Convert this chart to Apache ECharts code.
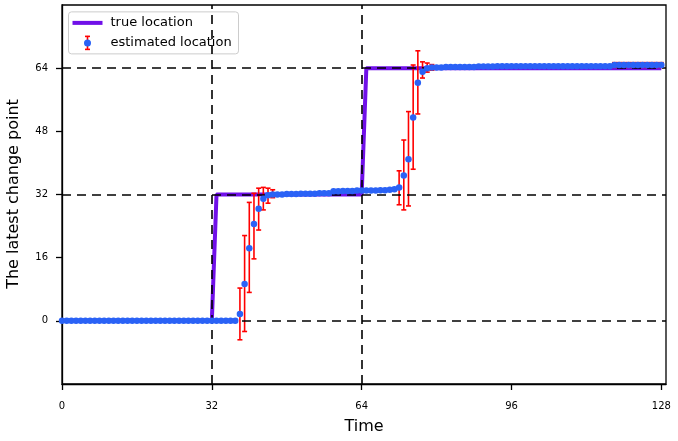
<!DOCTYPE html>
<html>
    <head>
        <title>change_point</title>
        <script src="https://cdnjs.cloudflare.com/ajax/libs/echarts/6.0.0/echarts.min.js"></script>
        <style>
            html, body { margin: 0; padding: 0; background: #fff; }
        </style>
    </head>
    <body>
        <div id="main" style="width: 678px; height: 441px;"></div>
        <script>
            // time steps 0..128
            var times = [];
            for (var i = 0; i <= 128; i++) times.push(i);

            // true change point at each time
            var trueLoc = [];
            for (var i = 0; i <= 128; i++) trueLoc.push(i <= 32 ? 0 : (i <= 64 ? 32 : 64));

            // estimated change point
            var estLoc = [
                0, 0, 0, 0, 0, 0, 0, 0, 0, 0, 0, 0, 0, 0, 0, 0,
                0, 0, 0, 0, 0, 0, 0, 0, 0, 0, 0, 0, 0, 0, 0, 0,
                0, 0, 0, 0, 0, 0, 1.7, 9.3, 18.4, 24.5, 28.4, 30.9, 31.8, 32.0,
                32.0, 32.0, 32.1, 32.1, 32.1, 32.2, 32.2, 32.2, 32.2, 32.3, 32.3, 32.3,
                32.8, 32.8, 32.9, 32.9, 32.9, 33.0, 33.0, 33.0, 33.0, 33.0, 33.1, 33.1, 33.2, 33.3,
                33.8, 36.8, 40.9, 51.5, 60.3, 63.1, 64.0, 64.2,
                64.2, 64.2, 64.3, 64.3, 64.3, 64.3, 64.3, 64.3, 64.3, 64.4,
                64.4, 64.4, 64.4, 64.5, 64.5, 64.5, 64.5, 64.5, 64.5, 64.5,
                64.5, 64.5, 64.5, 64.5, 64.5, 64.5, 64.5, 64.5, 64.5, 64.5,
                64.5, 64.5, 64.5, 64.5, 64.5, 64.5, 64.5, 64.5,
                64.8, 64.8, 64.8, 64.8, 64.8, 64.8, 64.8, 64.8, 64.8, 64.8, 64.8
            ];

            // error bars: [time, low, high]
            var errBars = [
                [38, -4.8, 8.3], [39, -2.7, 21.6], [40, 7.2, 30.0], [41, 15.7, 32.3],
                [42, 23.0, 33.6], [43, 28.1, 33.8], [44, 29.8, 33.6], [45, 31.2, 33.2],
                [72, 29.4, 38.0], [73, 28.1, 45.8], [74, 29.1, 53.0], [75, 38.4, 64.8],
                [76, 52.4, 68.4], [77, 61.5, 65.6], [78, 63.0, 65.3], [79, 63.5, 64.9],
                [118, 64.2, 65.4], [119, 64.2, 65.4], [120, 64.2, 65.4], [121, 64.2, 65.4],
                [122, 64.2, 65.4], [123, 64.2, 65.4], [124, 64.2, 65.4], [125, 64.2, 65.4],
                [126, 64.2, 65.4], [127, 64.2, 65.4], [128, 64.2, 65.4]
            ];

            var guideX = [32, 64];
            var guideY = [0, 32, 64];
            var xTicks = [0, 32, 64, 96, 128];
            var yTicks = [0, 16, 32, 48, 64];
            var legendNames = ['true location', 'estimated location'];
            var yTitle = 'The latest change point';

            var FONT = 'DejaVu Sans';
            var PURPLE = '#7010e8', BLUE = '#2a62f6';
            var myChart = echarts.init(document.getElementById('main'));

            var trueData = times.map(function (t, i) { return [t, trueLoc[i]]; });
            var estData = times.map(function (t, i) { return [t, estLoc[i]]; });
            var guides = guideX.map(function (v) { return { xAxis: v }; })
                .concat(guideY.map(function (v) { return { yAxis: v }; }));

            // legend box drawn by hand (matplotlib style, with errorbar icon)
            var redLine = { stroke: 'red', lineWidth: 1.6 };
            var legendBox = {
                type: 'group', left: 68, top: 10, z: 100,
                children: [
                    { type: 'rect', shape: { x: 0, y: 0, width: 170, height: 42, r: 3 },
                      style: { fill: 'rgba(255,255,255,0.85)', stroke: '#ccc', lineWidth: 1 } },
                    { type: 'rect', shape: { x: 4, y: 9, width: 30, height: 4 }, style: { fill: PURPLE } },
                    { type: 'text', x: 42, y: 11, style: { text: legendNames[0], fontFamily: FONT, fontSize: 13, fill: '#000', verticalAlign: 'middle' } },
                    { type: 'line', shape: { x1: 19, y1: 24, x2: 19, y2: 38 }, style: redLine },
                    { type: 'line', shape: { x1: 16.5, y1: 24.5, x2: 21.5, y2: 24.5 }, style: redLine },
                    { type: 'line', shape: { x1: 16.5, y1: 37.5, x2: 21.5, y2: 37.5 }, style: redLine },
                    { type: 'circle', shape: { cx: 19, cy: 31, r: 3.5 }, style: { fill: BLUE } },
                    { type: 'text', x: 42, y: 31, style: { text: legendNames[1], fontFamily: FONT, fontSize: 13, fill: '#000', verticalAlign: 'middle' } }
                ]
            };
            // y axis title, rotated, left of the tick labels
            var yTitleText = {
                type: 'text', x: 14, y: 194, rotation: Math.PI / 2,
                style: { text: yTitle, fontFamily: FONT, fontSize: 16, fill: '#000', align: 'center', verticalAlign: 'middle' }
            };

            var option = {
                animation: false,
                grid: {
                    left: 62, right: 12, top: 5, bottom: 57,
                    containLabel: false, outerBoundsMode: 'none',
                    show: true, borderColor: '#000', borderWidth: 1.3
                },
                graphic: [legendBox, yTitleText],
                xAxis: {
                    type: 'value', min: 0, max: 129,
                    name: 'Time', nameLocation: 'middle', nameGap: 27, nameMoveOverlap: false,
                    nameTextStyle: { fontFamily: FONT, fontSize: 16, color: '#000' },
                    axisLine: { onZero: false, lineStyle: { color: '#000', width: 1.3 } },
                    axisTick: { show: true, length: 6, customValues: xTicks, lineStyle: { color: '#000', width: 1.3 } },
                    axisLabel: { customValues: xTicks, margin: 12, fontFamily: FONT, fontSize: 10, color: '#000' },
                    splitLine: { show: false }
                },
                yAxis: {
                    type: 'value', min: -16, max: 80, interval: 16,
                    axisLine: { onZero: false, lineStyle: { color: '#000', width: 1.3 } },
                    axisTick: { show: true, length: 6, customValues: yTicks, lineStyle: { color: '#000', width: 1.3 } },
                    axisLabel: { customValues: yTicks, margin: 14, fontFamily: FONT, fontSize: 10, color: '#000' },
                    splitLine: { show: false }
                },
                series: [
                    {
                        name: legendNames[0], type: 'line', z: 2,
                        showSymbol: false, symbol: 'none',
                        lineStyle: { color: PURPLE, width: 4 },
                        itemStyle: { color: PURPLE },
                        data: trueData
                    },
                    {
                        name: 'guides', type: 'line', z: 3, data: [],
                        markLine: {
                            silent: true, symbol: 'none', label: { show: false },
                            lineStyle: { color: '#000', type: [9, 6], width: 1.6 },
                            data: guides
                        }
                    },
                    {
                        name: 'errors', type: 'custom', z: 4,
                        renderItem: function (params, api) {
                            var t = api.value(0);
                            var lo = api.coord([t, api.value(1)]);
                            var hi = api.coord([t, api.value(2)]);
                            var w = 2.5;
                            return {
                                type: 'group',
                                children: [
                                    { type: 'line', shape: { x1: lo[0], y1: lo[1], x2: hi[0], y2: hi[1] }, style: redLine },
                                    { type: 'line', shape: { x1: lo[0] - w, y1: lo[1], x2: lo[0] + w, y2: lo[1] }, style: redLine },
                                    { type: 'line', shape: { x1: hi[0] - w, y1: hi[1], x2: hi[0] + w, y2: hi[1] }, style: redLine }
                                ]
                            };
                        },
                        data: errBars
                    },
                    {
                        name: legendNames[1], type: 'scatter', z: 5,
                        symbolSize: 6.5,
                        itemStyle: { color: BLUE, opacity: 1 },
                        data: estData
                    }
                ]
            };
            myChart.setOption(option);
        </script>
    </body>
</html>
